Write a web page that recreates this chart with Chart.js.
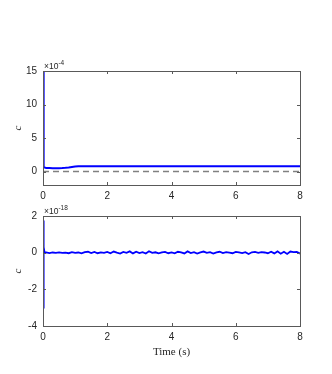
<!DOCTYPE html>
<html>
<head>
<meta charset="utf-8">
<script src="https://cdn.jsdelivr.net/npm/chart.js@4/dist/chart.umd.min.js"></script>
<style>
  body { margin: 0; background: #fff; }
  canvas { position: absolute; left: 0; }
  #top { top: 0; }
  #bottom { top: 200px; }
</style>
</head>
<body>
<canvas id="top" width="332" height="200"></canvas>
<canvas id="bottom" width="332" height="174"></canvas>
<script>
// top panel, c in units of 1e-4
const timeTop = [0, 0.02, 0.05, 0.1, 0.2, 0.3, 0.4, 0.5, 0.6, 0.7, 0.8, 0.9, 1.0, 1.1, 1.3, 1.6, 2, 3, 4, 5, 6, 7, 8];
const cTop = [15, 0.65, 0.6, 0.55, 0.52, 0.5, 0.5, 0.5, 0.52, 0.56, 0.62, 0.7, 0.76, 0.8, 0.8, 0.79, 0.79, 0.8, 0.8, 0.8, 0.8, 0.8, 0.8];
const refTime = [0, 8];
const refLevel = [0, 0];

// bottom panel, c in units of 1e-18
const timeBottom = [0, 0.01, 0.02, 0.03, 0.05,
  0.1, 0.2, 0.3, 0.4, 0.5, 0.6, 0.7, 0.8, 0.9, 1.0,
  1.1, 1.2, 1.3, 1.4, 1.5, 1.6, 1.7, 1.8, 1.9, 2.0,
  2.1, 2.2, 2.3, 2.4, 2.5, 2.6, 2.7, 2.8, 2.9, 3.0,
  3.1, 3.2, 3.3, 3.4, 3.5, 3.6, 3.7, 3.8, 3.9, 4.0,
  4.1, 4.2, 4.3, 4.4, 4.5, 4.6, 4.7, 4.8, 4.9, 5.0,
  5.1, 5.2, 5.3, 5.4, 5.5, 5.6, 5.7, 5.8, 5.9, 6.0,
  6.1, 6.2, 6.3, 6.4, 6.5, 6.6, 6.7, 6.8, 6.9, 7.0,
  7.1, 7.2, 7.3, 7.4, 7.5, 7.6, 7.7, 7.8, 7.9, 8.0];
const cBottom = [-3.0, 1.75, -0.4, 0.3, 0.0,
  0.01, -0.02, 0.01, -0.01, 0.02, -0.01, 0.0, -0.03, 0.03, -0.01,
  0.01, -0.04, 0.03, 0.05, -0.02, 0.04, -0.03, 0.02, -0.01, 0.04,
  -0.03, 0.06, 0.0, -0.05, 0.04, -0.01, 0.07, -0.04, 0.05, -0.02,
  0.03, -0.05, 0.08, -0.01, 0.02, -0.04, 0.01, 0.04, -0.03, 0.01,
  -0.04, 0.05, 0.02, -0.04, 0.07, -0.02, 0.03, -0.05, 0.01, 0.06,
  -0.01, 0.03, -0.05, 0.02, 0.05, -0.02, 0.03, 0.0, -0.03, 0.04,
  0.01, -0.02, 0.03, -0.07, 0.02, 0.04, -0.01, 0.03, 0.01, -0.03,
  0.05, -0.04, 0.07, -0.06, 0.05, -0.07, 0.06, 0.03, 0.04, -0.05];

const timeTicks = [0, 2, 4, 6, 8];
const yTicksTop = [0, 5, 10, 15];
const yTicksBottom = [-4, -2, 0, 2];

const tickFont = { family: 'Liberation Sans', size: 10 };
const axisColor = '#262626';

function pts(xs, ys) {
    return xs.map((x, i) => ({ x: x, y: ys[i] }));
}

// matlab style box with inward ticks on all four sides + exponent label
const boxPlugin = {
    id: 'box',
    afterDraw(chart, args, opts) {
        const ctx = chart.ctx;
        const a = chart.chartArea;
        const xs = chart.scales.x, ys = chart.scales.y;
        ctx.save();
        ctx.strokeStyle = '#595959';
        ctx.lineWidth = 1;
        ctx.strokeRect(Math.round(a.left) + 0.5, Math.round(a.top) + 0.5,
            Math.round(a.right - a.left), Math.round(a.bottom - a.top));
        ctx.beginPath();
        xs.ticks.forEach(t => {
            const px = Math.round(xs.getPixelForValue(t.value)) + 0.5;
            ctx.moveTo(px, a.bottom); ctx.lineTo(px, a.bottom - 3);
            ctx.moveTo(px, a.top); ctx.lineTo(px, a.top + 3);
        });
        ys.ticks.forEach(t => {
            const py = Math.round(ys.getPixelForValue(t.value)) + 0.5;
            ctx.moveTo(a.left, py); ctx.lineTo(a.left + 3, py);
            ctx.moveTo(a.right, py); ctx.lineTo(a.right - 3, py);
        });
        ctx.stroke();

        // "x10^n" above the y axis
        ctx.fillStyle = axisColor;
        ctx.textBaseline = 'alphabetic';
        ctx.textAlign = 'left';
        ctx.font = '8.5px "Liberation Sans"';
        const base = a.top - 2.5;
        ctx.fillText('\u00d710', a.left + 1, base);
        const w = ctx.measureText('\u00d710').width;
        ctx.font = '6.5px "Liberation Sans"';
        ctx.fillText(opts.exponent, a.left + 1 + w, base - 4);
        ctx.restore();
    }
};

function makeChart(id, datasets, yMin, yMax, yTicks, exponent, xAxisHeight, padTop, xTitle) {
    return new Chart(document.getElementById(id), {
        type: 'line',
        data: { datasets: datasets },
        options: {
            responsive: false,
            animation: false,
            layout: { padding: { top: padTop, right: 32, left: 0, bottom: 0 } },
            plugins: {
                legend: { display: false },
                tooltip: { enabled: false },
                box: { exponent: exponent }
            },
            elements: { point: { radius: 0 } },
            scales: {
                x: {
                    type: 'linear',
                    min: 0,
                    max: 8,
                    afterBuildTicks: s => { s.ticks = timeTicks.map(v => ({ value: v })); },
                    afterFit: s => { s.height = xAxisHeight; },
                    grid: { display: false, drawTicks: false },
                    border: { display: false },
                    ticks: { font: tickFont, color: axisColor, padding: 5, maxRotation: 0 },
                    title: {
                        display: !!xTitle,
                        text: xTitle,
                        font: { family: 'Liberation Serif', size: 11 },
                        color: axisColor,
                        padding: { top: 0, bottom: 15 }
                    }
                },
                y: {
                    type: 'linear',
                    min: yMin,
                    max: yMax,
                    afterBuildTicks: s => { s.ticks = yTicks.map(v => ({ value: v })); },
                    afterFit: s => { s.width = 43; },
                    grid: { display: false, drawTicks: false },
                    border: { display: false },
                    ticks: { font: tickFont, color: axisColor, padding: 6 },
                    title: {
                        display: true,
                        text: 'c',
                        font: { family: 'Liberation Serif', size: 11, style: 'italic' },
                        color: axisColor,
                        padding: { top: 12, bottom: 0 }
                    }
                }
            }
        },
        plugins: [boxPlugin]
    });
}

makeChart('top', [
    {
        data: pts(refTime, refLevel),
        borderColor: '#808080',
        borderWidth: 1.5,
        borderDash: [6, 4],
        tension: 0
    },
    {
        data: pts(timeTop, cTop),
        borderColor: '#0000ff',
        borderWidth: 2,
        tension: 0
    }
], -2, 15, yTicksTop, '-4', 15, 71, '');

makeChart('bottom', [
    {
        data: pts(timeBottom, cBottom),
        borderColor: '#0000ff',
        borderWidth: 1.8,
        tension: 0
    }
], -4, 2, yTicksBottom, '-18', 48, 16, 'Time (s)');
</script>
</body>
</html>
